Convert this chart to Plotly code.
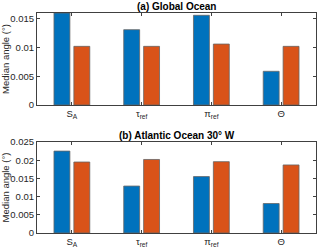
import plotly.graph_objects as go

categories = ["S<sub>A</sub>", "τ<sub>ref</sub>", "π<sub>ref</sub>", "Θ"]
x_pos = [1, 2, 3, 4]
global_blue = [0.0160, 0.0131, 0.0156, 0.00586]
global_orange = [0.0102, 0.0102, 0.0106, 0.0102]
atl_blue = [0.0225, 0.0129, 0.0155, 0.0081]
atl_orange = [0.0195, 0.0202, 0.0196, 0.0187]

BLUE = "#0072BD"
ORANGE = "#D95319"
AX = "#404040"
FONT = "Liberation Sans, Arial, sans-serif"

fig = go.Figure()
for vals, col, xa, ya in [
    (global_blue, BLUE, "x", "y"),
    (global_orange, ORANGE, "x", "y"),
    (atl_blue, BLUE, "x2", "y2"),
    (atl_orange, ORANGE, "x2", "y2"),
]:
    fig.add_trace(go.Bar(x=x_pos, y=vals, marker=dict(color=col, line=dict(color="#666666", width=0.8)),
                         xaxis=xa, yaxis=ya, showlegend=False, cliponaxis=True))

common_x = dict(range=[0.5, 4.5], tickmode="array", tickvals=x_pos, ticktext=categories,
                ticks="inside", ticklen=3, tickcolor=AX, showline=True, linecolor=AX, linewidth=1,
                mirror="ticks", showgrid=False, zeroline=False, automargin=False,
                tickfont=dict(size=9.5, color="#262626", family=FONT))
common_y = dict(ticks="inside", ticklen=3, tickcolor=AX, showline=True, linecolor=AX, linewidth=1,
                mirror="ticks", showgrid=False, zeroline=False, automargin=False,
                tickfont=dict(size=9.5, color="#262626", family=FONT),
                title=dict(text="Median angle (°)", font=dict(size=9.5, color="#262626", family=FONT), standoff=5))

fig.update_layout(
    width=320, height=251,
    margin=dict(l=37, r=4, t=13, b=18, autoexpand=False),
    paper_bgcolor="white", plot_bgcolor="white",
    barmode="group", bargap=0.43, bargroupgap=0.2,
    xaxis=dict(domain=[0, 1], anchor="y", **common_x),
    yaxis=dict(domain=[0.5818, 1.0], anchor="x", range=[0, 0.016],
               tickvals=[0, 0.005, 0.01, 0.015], ticktext=["0", "0.005", "0.01", "0.015"], **common_y),
    xaxis2=dict(domain=[0, 1], anchor="y2", **common_x),
    yaxis2=dict(domain=[0.0, 0.4136], anchor="x2", range=[0, 0.025],
                tickvals=[0, 0.005, 0.01, 0.015, 0.02, 0.025],
                ticktext=["0", "0.005", "0.01", "0.015", "0.02", "0.025"], **common_y),
    annotations=[
        dict(text="<b>(a) Global Ocean</b>", x=0.5, xref="x domain", y=1.0, yref="paper",
             yanchor="bottom", yshift=-1, showarrow=False, font=dict(size=10, color="black", family=FONT)),
        dict(text="<b>(b) Atlantic Ocean 30° W</b>", x=0.5, xref="x2 domain", y=0.4136, yref="paper",
             yanchor="bottom", yshift=-1, showarrow=False, font=dict(size=10, color="black", family=FONT)),
    ],
)

fig.write_html("out.html", config={"displayModeBar": False},
               post_script="document.body.style.margin='0';document.body.style.overflow='hidden';")
